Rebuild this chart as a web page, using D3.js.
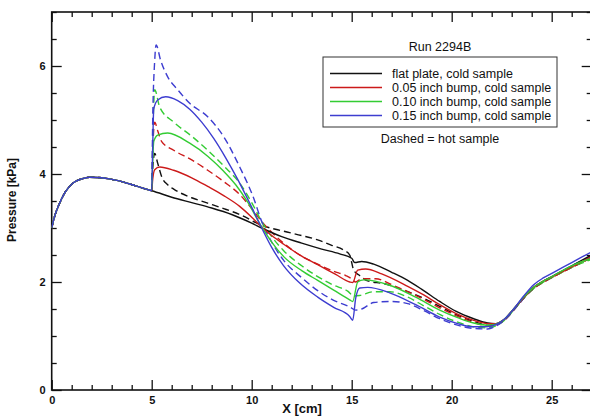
<!DOCTYPE html>
<html>
<head>
<meta charset="utf-8">
<script src="https://cdn.jsdelivr.net/npm/d3@7"></script>
<style>
  body { margin: 0; background: #fff; }
  text { font-family: "Liberation Sans", Arial, sans-serif; fill: #111; }
  .tick text { font-size: 11px; font-weight: bold; }
  .axis-label { font-size: 13px; font-weight: bold; }
  .legend text { font-size: 12.5px; }
</style>
</head>
<body>
<svg width="590" height="419"></svg>
<script>
const svg = d3.select('svg');

// shared upstream part (all runs identical before the bump at x = 5 cm)
const upstream = [
  [0, 3.0], [0.15, 3.22], [0.35, 3.42], [0.65, 3.65], [1.05, 3.83], [1.5, 3.91],
  [1.9, 3.94], [2.5, 3.93], [3, 3.9], [3.6, 3.85], [4.2, 3.78], [4.9, 3.70]
];

const flatCold = [
  [5.0, 3.69], [6, 3.57], [7, 3.47], [8, 3.37], [9, 3.25], [10, 3.09], [10.5, 3.0],
  [11.5, 2.84], [12.5, 2.72], [13.5, 2.61], [14.4, 2.52], [15.0, 2.44], [15.15, 2.36],
  [15.5, 2.38], [16.1, 2.33], [17, 2.18], [17.8, 2.03], [18.6, 1.84], [19.4, 1.64],
  [20.2, 1.46], [21.1, 1.32], [21.8, 1.24], [22.2, 1.23], [22.6, 1.3], [23.1, 1.5],
  [23.6, 1.72], [24.1, 1.9], [24.6, 2.02], [25.1, 2.12], [26, 2.3], [27, 2.5]
];
const bump05Cold = [
  [5.0, 3.69], [5.05, 3.9], [5.15, 4.08], [5.4, 4.13], [6.1, 4.07], [7, 3.93], [7.8, 3.77],
  [8.6, 3.6], [9.4, 3.4], [10.0, 3.2], [10.5, 3.02], [11.0, 2.86], [11.6, 2.7], [12.5, 2.48],
  [13.3, 2.32], [14.2, 2.14], [14.9, 2.0], [15.05, 1.99], [15.3, 2.22], [15.7, 2.24],
  [16.5, 2.15], [17.8, 1.92], [18.6, 1.76], [19.4, 1.58], [20.2, 1.42], [21.1, 1.29],
  [21.8, 1.23], [22.2, 1.23], [22.6, 1.3], [23.1, 1.5], [23.6, 1.71], [24.1, 1.9],
  [24.6, 2.02], [25.1, 2.11], [26, 2.28], [27, 2.47]
];
const bump10Cold = [
  [5.0, 3.69], [5.05, 4.2], [5.1, 4.6], [5.3, 4.72], [5.8, 4.76], [6.9, 4.57], [7.8, 4.33],
  [8.6, 4.05], [9.2, 3.8], [9.8, 3.48], [10.5, 3.02], [11.0, 2.74], [11.6, 2.47], [12.5, 2.21],
  [13.3, 2.03], [14.1, 1.85], [14.9, 1.67], [15.05, 1.64], [15.3, 2.0], [15.6, 2.04],
  [16.9, 1.94], [18.2, 1.72], [19.4, 1.48], [20.3, 1.34], [21.1, 1.24], [21.8, 1.2],
  [22.2, 1.22], [22.6, 1.3], [23.1, 1.5], [23.6, 1.72], [24.1, 1.9], [24.6, 2.02],
  [25.1, 2.12], [26, 2.3], [27, 2.44]
];
const bump15Cold = [
  [5.0, 3.69], [5.05, 4.5], [5.1, 5.2], [5.3, 5.37], [5.7, 5.43], [6.3, 5.36], [6.9, 5.2],
  [7.5, 4.96], [8.1, 4.66], [8.7, 4.3], [9.3, 3.9], [9.9, 3.46], [10.5, 3.0], [11.0, 2.64],
  [11.6, 2.3], [12.4, 1.98], [13.3, 1.72], [14.1, 1.53], [14.9, 1.36], [15.05, 1.29],
  [15.2, 1.7], [15.4, 1.89], [15.8, 1.9], [16.9, 1.8], [18.2, 1.58], [19.4, 1.35],
  [20.3, 1.23], [21.1, 1.17], [21.7, 1.17], [22.2, 1.21], [22.6, 1.3], [23.1, 1.5],
  [23.6, 1.74], [24.1, 1.95], [24.6, 2.08], [25.1, 2.18], [26, 2.36], [27, 2.56]
];

const flatHot = [
  [5.0, 3.69], [5.05, 4.1], [5.15, 4.38], [5.3, 4.2], [5.5, 3.95], [5.8, 3.8], [6.1, 3.72],
  [7, 3.56], [7.8, 3.46], [8.6, 3.36], [9.4, 3.25], [10.5, 3.05], [11.6, 2.94], [12.5, 2.86],
  [13.3, 2.78], [14, 2.68], [14.6, 2.59], [14.9, 2.5], [15.1, 2.22], [15.4, 2.12],
  [15.8, 2.02], [16.6, 1.97], [17.8, 1.82], [18.6, 1.7], [19.4, 1.55], [20.2, 1.4],
  [21.1, 1.27], [21.8, 1.2], [22.2, 1.21], [22.6, 1.29], [23.1, 1.48], [23.6, 1.7],
  [24.1, 1.88], [24.6, 2.0], [25.1, 2.1], [26, 2.27], [27, 2.45]
];
const bump05Hot = [
  [5.0, 3.69], [5.05, 4.4], [5.15, 4.96], [5.3, 4.8], [5.5, 4.6], [6.1, 4.44], [7, 4.26],
  [7.8, 4.07], [8.6, 3.86], [9.4, 3.62], [10.0, 3.36], [10.5, 3.12], [11.0, 2.92], [11.5, 2.75],
  [12.4, 2.5], [13.3, 2.33], [14.1, 2.2], [14.7, 2.12], [15, 2.06], [15.2, 2.0], [15.5, 2.06],
  [16.2, 2.06], [17, 1.95], [17.8, 1.82], [18.6, 1.68], [19.4, 1.52], [20.2, 1.38],
  [21.1, 1.25], [21.8, 1.19], [22.2, 1.2], [22.6, 1.28], [23.1, 1.48], [23.6, 1.7],
  [24.1, 1.88], [24.6, 2.0], [25.1, 2.1], [26, 2.27], [27, 2.45]
];
const bump10Hot = [
  [5.0, 3.69], [5.05, 4.6], [5.15, 5.56], [5.4, 5.24], [6.1, 4.96], [7, 4.7], [7.8, 4.44],
  [8.6, 4.15], [9.4, 3.83], [10.0, 3.47], [10.5, 3.12], [11.0, 2.84], [11.6, 2.58], [12.5, 2.3],
  [13.3, 2.1], [14.1, 1.94], [14.8, 1.83], [15.1, 1.74], [15.4, 1.75], [16.1, 1.82],
  [16.9, 1.82], [17.8, 1.72], [18.6, 1.56], [19.4, 1.4], [20.2, 1.27], [21.1, 1.17],
  [21.8, 1.15], [22.2, 1.19], [22.6, 1.28], [23.1, 1.48], [23.6, 1.7], [24.1, 1.88],
  [24.6, 2.0], [25.1, 2.1], [26, 2.27], [27, 2.42]
];
const bump15Hot = [
  [5.0, 3.69], [5.05, 5.0], [5.15, 6.1], [5.22, 6.39], [5.45, 6.1], [5.8, 5.8], [6.3, 5.56],
  [6.9, 5.31], [7.8, 5.06], [8.6, 4.69], [9.4, 4.13], [10.1, 3.55], [10.5, 3.12], [11, 2.74],
  [11.6, 2.4], [12.5, 2.08], [13.3, 1.84], [14.1, 1.66], [14.9, 1.54], [15.2, 1.48],
  [15.5, 1.5], [16.1, 1.62], [17, 1.64], [17.8, 1.6], [18.6, 1.47], [19.4, 1.32], [20.2, 1.21],
  [21.1, 1.14], [21.8, 1.13], [22.2, 1.18], [22.6, 1.28], [23.1, 1.48], [23.6, 1.7],
  [24.1, 1.9], [24.6, 2.02], [25.1, 2.12], [26, 2.3], [27, 2.48]
];

const legendLabels = [
  'flat plate, cold sample',
  '0.05 inch bump, cold sample',
  '0.10 inch bump, cold sample',
  '0.15 inch bump, cold sample'
];
const colors = ['#111111', '#cc1a1a', '#33cc33', '#3d3dd0'];
const coldSeries = [flatCold, bump05Cold, bump10Cold, bump15Cold];
const hotSeries = [flatHot, bump05Hot, bump10Hot, bump15Hot];

const xMajor = [0, 5, 10, 15, 20, 25];
const yMajor = [0, 2, 4, 6];

const margin = { left: 51.7, top: 12, right: 591.7, bottom: 390 };
const x = d3.scaleLinear().domain([0, 27]).range([margin.left, margin.right]);
const y = d3.scaleLinear().domain([0, 7]).range([margin.bottom, margin.top]);

const xMinor = d3.range(0, 28, 1).filter(v => !xMajor.includes(v));
const yMinor = d3.range(0, 7.01, 0.5).filter(v => !yMajor.includes(v));

svg.append('clipPath').attr('id', 'plot')
  .append('rect')
    .attr('x', margin.left).attr('y', margin.top)
    .attr('width', margin.right - margin.left)
    .attr('height', margin.bottom - margin.top);

// axes: major + minor ticks on all four sides, pointing inward
const addAxis = (axis, transform, labels) => {
  const g = svg.append('g').attr('transform', transform).call(axis);
  g.select('.domain').remove();
  g.selectAll('.tick line').attr('stroke', '#111').attr('stroke-width', 1.3);
  if (!labels) g.selectAll('.tick text').remove();
  g.attr('font-family', null).attr('font-size', null);
  return g;
};

const fmt = d3.format('d');

addAxis(d3.axisBottom(x).tickValues(xMajor).tickSize(-10).tickPadding(6).tickFormat(fmt),
  `translate(0,${margin.bottom})`, true);
addAxis(d3.axisBottom(x).tickValues(xMinor).tickSize(-5).tickFormat(''),
  `translate(0,${margin.bottom})`, false);
addAxis(d3.axisTop(x).tickValues(xMajor).tickSize(-10).tickFormat(''),
  `translate(0,${margin.top})`, false);
addAxis(d3.axisTop(x).tickValues(xMinor).tickSize(-5).tickFormat(''),
  `translate(0,${margin.top})`, false);
addAxis(d3.axisLeft(y).tickValues(yMajor).tickSize(-10).tickPadding(6).tickFormat(fmt),
  `translate(${margin.left},0)`, true);
addAxis(d3.axisLeft(y).tickValues(yMinor).tickSize(-5).tickFormat(''),
  `translate(${margin.left},0)`, false);
addAxis(d3.axisRight(y).tickValues(yMajor).tickSize(-10).tickFormat(''),
  `translate(${margin.right},0)`, false);
addAxis(d3.axisRight(y).tickValues(yMinor).tickSize(-5).tickFormat(''),
  `translate(${margin.right},0)`, false);

svg.append('rect')
  .attr('x', margin.left).attr('y', margin.top)
  .attr('width', margin.right - margin.left)
  .attr('height', margin.bottom - margin.top)
  .attr('fill', 'none').attr('stroke', '#111').attr('stroke-width', 1.6);

// curves
const line = d3.line()
  .x(d => x(d[0]))
  .y(d => y(d[1]))
  .curve(d3.curveMonotoneX);

const curves = svg.append('g').attr('clip-path', 'url(#plot)')
  .attr('fill', 'none').attr('stroke-width', 1.4);

hotSeries.forEach((s, i) => {
  curves.append('path')
    .attr('d', line(upstream.concat(s)))
    .attr('stroke', colors[i])
    .attr('stroke-dasharray', '7,4');
});
coldSeries.forEach((s, i) => {
  curves.append('path')
    .attr('d', line(upstream.concat(s)))
    .attr('stroke', colors[i]);
});

// axis titles
svg.append('text')
  .attr('class', 'axis-label')
  .attr('x', 302).attr('y', 413)
  .attr('text-anchor', 'middle')
  .text('X [cm]');

svg.append('text')
  .attr('class', 'axis-label')
  .attr('transform', 'translate(16,200) rotate(-90)')
  .attr('text-anchor', 'middle')
  .style('font-size', '12px')
  .text('Pressure [kPa]');

// legend
const legend = svg.append('g').attr('class', 'legend');

legend.append('text')
  .attr('x', 440).attr('y', 51)
  .attr('text-anchor', 'middle')
  .text('Run 2294B');

legend.append('rect')
  .attr('x', 323).attr('y', 57)
  .attr('width', 234).attr('height', 70)
  .attr('fill', '#fff').attr('stroke', '#333').attr('stroke-width', 1);

legendLabels.forEach((label, i) => {
  const yy = 73.5 + i * 14;
  legend.append('line')
    .attr('x1', 330).attr('x2', 382)
    .attr('y1', yy).attr('y2', yy)
    .attr('stroke', colors[i]).attr('stroke-width', 1.4);
  legend.append('text')
    .attr('x', 392).attr('y', yy + 4.5)
    .text(label);
});

legend.append('text')
  .attr('x', 440).attr('y', 143)
  .attr('text-anchor', 'middle')
  .text('Dashed = hot sample');
</script>
</body>
</html>
